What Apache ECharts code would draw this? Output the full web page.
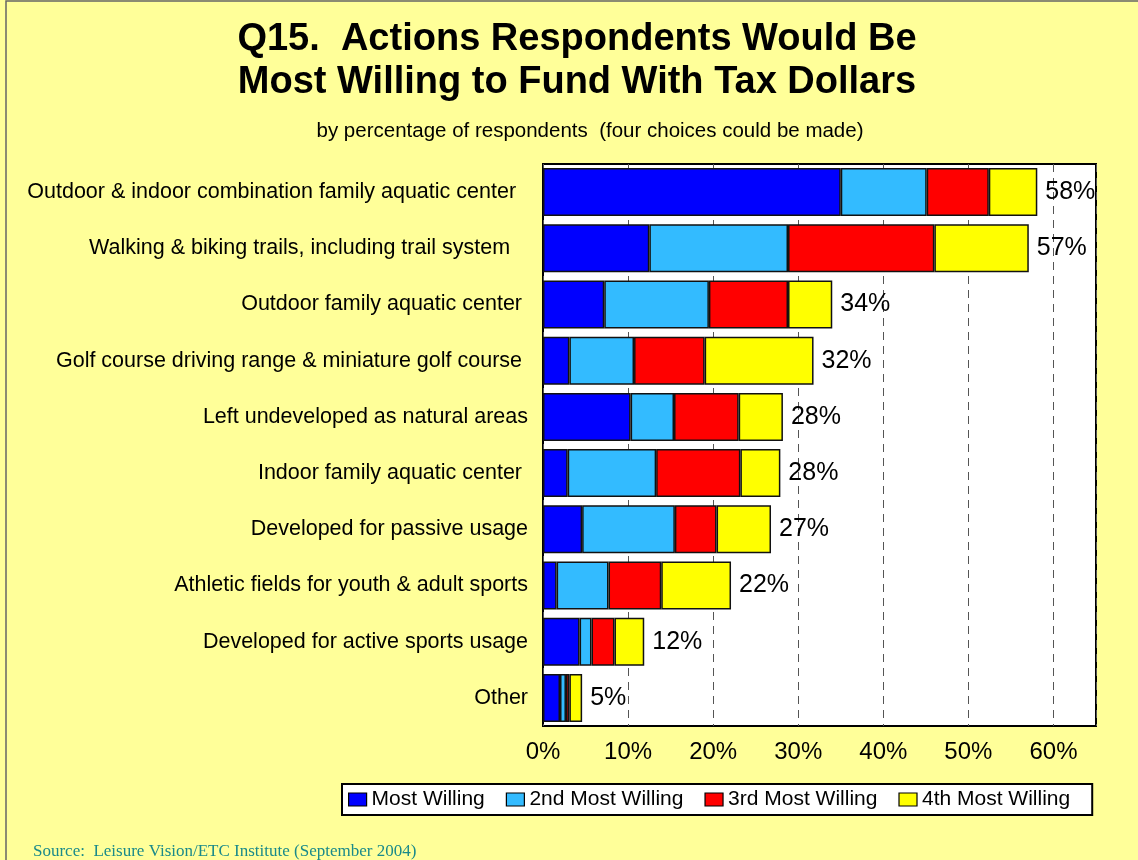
<!DOCTYPE html>
<html>
<head>
<meta charset="utf-8">
<script src="https://cdn.jsdelivr.net/npm/echarts@6/dist/echarts.min.js"></script>
<style>
  html, body { margin: 0; padding: 0; background: #FFFF99; }
  #chart { width: 1138px; height: 860px; }
</style>
</head>
<body>
<div id="chart"></div>
<script>
// Survey actions, ranked top to bottom
const categories = [
  'Outdoor & indoor combination family aquatic center  ',
  'Walking & biking trails, including trail system   ',
  'Outdoor family aquatic center ',
  'Golf course driving range & miniature golf course ',
  'Left undeveloped as natural areas',
  'Indoor family aquatic center ',
  'Developed for passive usage',
  'Athletic fields for youth & adult sports',
  'Developed for active sports usage',
  'Other'
];

// Percent of respondents per choice rank
const mostWilling = [35.0, 12.5, 7.2, 3.1, 10.3, 2.9, 4.6, 1.6, 4.3, 2.0];
const secondMost  = [10.1, 16.3, 12.3, 7.6, 5.1, 10.4, 10.9, 6.1, 1.4, 0.7];
const thirdMost   = [7.3, 17.2, 9.3, 8.3, 7.6, 9.9, 4.9, 6.2, 2.7, 0.4];
const fourthMost  = [5.7, 11.1, 5.2, 12.8, 5.2, 4.7, 6.4, 8.2, 3.5, 1.5];

const seriesNames = ['Most Willing', '2nd Most Willing', '3rd Most Willing', '4th Most Willing'];
const seriesColors = ['#0000FF', '#33BBFF', '#FF0000', '#FFFF00'];
const xTicks = [0, 10, 20, 30, 40, 50, 60];

const totals = categories.map((_, i) =>
  mostWilling[i] + secondMost[i] + thirdMost[i] + fourthMost[i]);

const FONT = 'Arial, "Liberation Sans", sans-serif';

const chart = echarts.init(document.getElementById('chart'), null, { renderer: 'canvas' });

const dataSets = [mostWilling, secondMost, thirdMost, fourthMost];

const series = dataSets.map((data, k) => ({
  name: seriesNames[k],
  type: 'bar',
  stack: 'total',
  barWidth: 48,
  data: data,
  itemStyle: { color: seriesColors[k], borderColor: '#111', borderWidth: 1.5 },
  emphasis: { disabled: true },
  label: k === 3 ? {
    show: true,
    position: 'right',
    distance: 8,
    fontSize: 25,
    fontFamily: FONT,
    color: '#000',
    formatter: p => Math.round(totals[p.dataIndex]) + '%'
  } : { show: false }
}));

chart.setOption({
  backgroundColor: '#FFFF99',
  animation: false,
  title: [
    {
      text: 'Q15.  Actions Respondents Would Be\nMost Willing to Fund With Tax Dollars',
      left: 577, top: 18, textAlign: 'center', padding: 0,
      textStyle: { fontFamily: FONT, fontSize: 38, fontWeight: 'bold', color: '#000', lineHeight: 43 }
    },
    {
      text: 'by percentage of respondents  (four choices could be made)',
      left: 590, top: 121, textAlign: 'center', padding: 0,
      textStyle: { fontFamily: FONT, fontSize: 20.5, fontWeight: 'normal', color: '#000', lineHeight: 20 }
    },
    {
      text: 'Source:  Leisure Vision/ETC Institute (September 2004)',
      left: 33, top: 842, padding: 0,
      textStyle: { fontFamily: '"Liberation Serif", "Times New Roman", serif', fontSize: 17, fontWeight: 'normal', color: '#1A8A8A', lineHeight: 20 }
    }
  ],
  legend: {
    data: seriesNames,
    left: 342, top: 784,
    orient: 'horizontal',
    backgroundColor: '#FFFFFF',
    borderColor: '#000',
    borderWidth: 2,
    borderRadius: 0,
    padding: [5, 22, 5, 6],
    itemWidth: 18, itemHeight: 13,
    itemGap: 21,
    icon: 'rect',
    itemStyle: { borderColor: '#000', borderWidth: 1.2 },
    textStyle: { fontFamily: FONT, fontSize: 21, color: '#000' },
    selectedMode: false
  },
  grid: {
    left: 543, right: 42, top: 164, bottom: 134,
    show: true,
    backgroundColor: '#FFFFFF',
    borderColor: '#000',
    borderWidth: 2,
    containLabel: false
  },
  xAxis: {
    type: 'value',
    min: xTicks[0], max: 65, interval: 10,
    axisLine: { show: false },
    axisTick: { show: false },
    axisLabel: {
      fontFamily: FONT, fontSize: 24, color: '#000', margin: 14,
      showMaxLabel: false,
      formatter: v => xTicks.includes(v) ? v + '%' : ''
    },
    splitLine: { show: true, lineStyle: { color: '#555', type: [8, 6], width: 1 } }
  },
  yAxis: {
    type: 'category',
    data: categories,
    inverse: true,
    axisLine: { show: false },
    axisTick: { show: false },
    axisLabel: { fontFamily: FONT, fontSize: 21.5, color: '#000', margin: 15 }
  },
  graphic: [
    {
      type: 'rect',
      shape: { x: 6, y: 1, width: 1200, height: 900 },
      style: { fill: 'none', stroke: '#666', lineWidth: 1.5 },
      silent: true
    }
  ],
  series: series
});
</script>
</body>
</html>
